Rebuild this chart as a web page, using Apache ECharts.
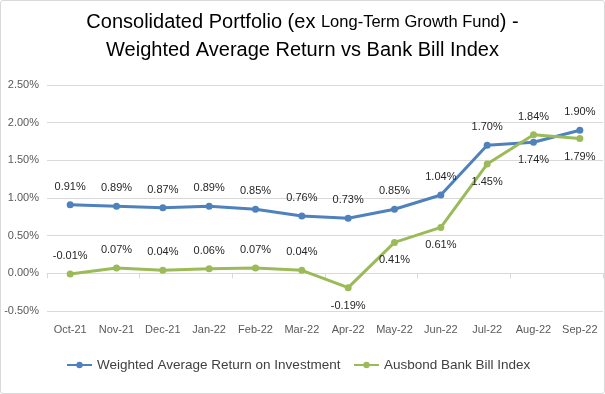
<!DOCTYPE html>
<html><head><meta charset="utf-8">
<script src="https://cdn.jsdelivr.net/npm/echarts@6/dist/echarts.min.js"></script>
<style>
html,body{margin:0;padding:0;background:#fff;}
#c{position:absolute;left:0;top:0;width:603px;height:392px;border:1px solid #d9d9d9;border-radius:3px;}
</style></head>
<body><div id="c"></div>
<script>
const categories = ['Oct-21','Nov-21','Dec-21','Jan-22','Feb-22','Mar-22','Apr-22','May-22','Jun-22','Jul-22','Aug-22','Sep-22'];
const weightedReturn = [0.91,0.89,0.87,0.89,0.85,0.76,0.73,0.85,1.04,1.70,1.74,1.90];
const bankBill = [-0.01,0.07,0.04,0.06,0.07,0.04,-0.19,0.41,0.61,1.45,1.84,1.79];
const seriesNames = ['Weighted Average Return on Investment','Ausbond Bank Bill Index'];
const weightedLabelPos = ['top','top','top','top','top','top','top','top','top','top','bottom','top'];
const bankLabelPos = ['top','top','top','top','top','top','bottom','bottom','bottom','bottom','top','bottom'];

const FONT = 'Liberation Sans';
const chart = echarts.init(document.getElementById('c'));
function mk(vals, pos){
  return vals.map((v,i)=>({value:v,label:{position:pos[i]}}));
}
const legendBase = {bottom:16, itemWidth:25, itemHeight:8, itemGap:4,
  textStyle:{fontFamily:FONT,fontSize:13.5,color:'#404040'}};
chart.setOption({
  animation:false,
  title:{
    text:'{a|Consolidated Portfolio (ex }{b|Long-Term Growth Fund}{a|) -}\n{a|Weighted Average Return vs Bank Bill Index}',
    left:'center', top:2,
    textStyle:{fontWeight:'normal',rich:{
      a:{fontFamily:FONT,fontSize:20,fontWeight:'normal',color:'#000',lineHeight:28},
      b:{fontFamily:FONT,fontSize:16.5,fontWeight:'normal',color:'#000',lineHeight:28}
    }}
  },
  legend:[
    Object.assign({left:60, data:[seriesNames[0]]}, legendBase),
    Object.assign({left:347, data:[seriesNames[1]]}, legendBase)
  ],
  grid:{left:46,right:1,top:84,bottom:82},
  xAxis:[{
    type:'category', data:categories, boundaryGap:true,
    axisLine:{show:false,onZero:false}, axisTick:{show:false},
    axisLabel:{fontFamily:FONT,fontSize:11,color:'#595959',margin:13,interval:0}
  },{
    type:'category', data:categories, boundaryGap:true, position:'bottom',
    axisLine:{show:true,onZero:true,lineStyle:{color:'#d9d9d9',width:1}},
    axisTick:{show:true,length:5,lineStyle:{color:'#d9d9d9'}},
    axisLabel:{show:false}
  }],
  yAxis:{
    type:'value', min:-0.5, max:2.5, interval:0.5,
    axisLine:{show:false}, axisTick:{show:false},
    splitLine:{lineStyle:{color:'#d9d9d9',width:1}},
    axisLabel:{fontFamily:FONT,fontSize:11,color:'#595959',margin:8,
      formatter:v=>v.toFixed(2)+'%'}
  },
  series:[{
    name:seriesNames[0], type:'line', data:mk(weightedReturn,weightedLabelPos),
    color:'#4F81BD', symbol:'circle', symbolSize:7,
    lineStyle:{width:3,color:'#4F81BD'},
    itemStyle:{color:'#4F81BD'},
    label:{show:true,fontFamily:FONT,fontSize:11,color:'#262626',distance:9,
      formatter:p=>p.value.toFixed(2)+'%'}
  },{
    name:seriesNames[1], type:'line', data:mk(bankBill,bankLabelPos),
    color:'#9BBB59', symbol:'circle', symbolSize:7,
    lineStyle:{width:3,color:'#9BBB59'},
    itemStyle:{color:'#9BBB59'},
    label:{show:true,fontFamily:FONT,fontSize:11,color:'#262626',distance:9,
      formatter:p=>p.value.toFixed(2)+'%'}
  }]
});
</script></body></html>
